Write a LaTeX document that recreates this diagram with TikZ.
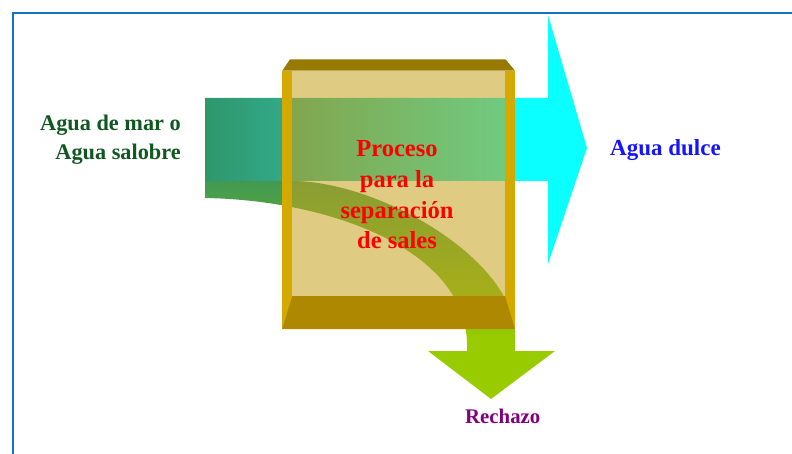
\documentclass[tikz,border=0pt]{standalone}
\usepackage{fontspec}
\setmainfont{Liberation Serif}
\definecolor{tealin}{RGB}{46,151,108}
\definecolor{tealmid}{RGB}{51,168,135}
\definecolor{freshcyan}{RGB}{10,255,255}
\definecolor{brineA}{RGB}{66,153,82}
\definecolor{brineB}{RGB}{153,204,0}
\definecolor{tankfill}{RGB}{197,162,28}
\definecolor{tankgold}{RGB}{212,169,0}
\definecolor{lidtop}{RGB}{151,122,0}
\definecolor{lidbot}{RGB}{173,136,0}
\definecolor{frameblue}{RGB}{22,112,200}
\definecolor{seagreen}{RGB}{16,88,32}
\definecolor{rejectpurple}{RGB}{128,0,128}
\definecolor{freshblue}{RGB}{20,20,255}
% feed water turning from sea green to fresh cyan
\pgfdeclarehorizontalshading{feedflow}{100bp}{color(0bp)=(tealin); color(25bp)=(tealin);
  color(37.5bp)=(tealmid); color(75bp)=(freshcyan); color(100bp)=(freshcyan)}
\tikzset{
  label/.style={inner sep=0pt, font=\bfseries},
  frameline/.style={draw=frameblue, line width=2.2pt}
}
\begin{document}
\begin{tikzpicture}[x=1pt, y=-1pt]
\useasboundingbox (0,0) rectangle (792,454);
% page frame
\draw[frameline] (12.8,454) -- (12.8,12.8) -- (792,12.8);

% feed water band and fresh water arrow
\begin{scope}
  \clip (205,98) -- (548,98) -- (548,15) -- (587,148) -- (548,264)
        -- (548,181) -- (205,181) -- cycle;
  \shade[shading=feedflow] (205,0) rectangle (512,300);
  \fill[freshcyan] (511.5,0) rectangle (600,300);
\end{scope}

% brine branch bending down into the reject arrow
\begin{scope}
  \clip (205,181) -- (292,181) .. controls (380,181) and (515,260) .. (515,335)
        -- (515,351) -- (555,351) -- (491,399) -- (428,351) -- (467,351)
        -- (467,345) .. controls (467,250) and (330,200) .. (205,198) -- cycle;
  \shade[top color=brineA, bottom color=brineB] (200,181) rectangle (560,340);
  \fill[brineB] (200,339.5) rectangle (560,400);
\end{scope}

% separation tank
\fill[tankfill, fill opacity=0.55] (292,70.7) rectangle (505,296);
\fill[tankgold] (282.3,70.7) rectangle (292.3,329);
\fill[tankgold] (505,70.7) rectangle (515,329);
\fill[lidtop] (290,59.3) -- (505.5,59.3) -- (515,70.7) -- (282.3,70.7) -- cycle;
\fill[lidbot] (292.3,296) -- (505,296) -- (515,329) -- (282.3,329) -- cycle;

% labels
\node[label, text=seagreen, align=right, anchor=east,
      font=\bfseries\fontsize{22.3}{28.5}\selectfont] (source) at (181,139.8)
  {Agua de mar o\\Agua salobre};
\node[label, text=red, align=center,
      font=\bfseries\fontsize{24.5}{30.7}\selectfont] (process) at (397,194.9)
  {Proceso\\para la\\separación\\de sales};
\node[label, text=freshblue, anchor=base west,
      font=\bfseries\fontsize{23}{28}\selectfont] (fresh) at (610,155.7) {Agua dulce};
\node[label, text=rejectpurple, anchor=base west,
      font=\bfseries\fontsize{20.8}{26}\selectfont] (reject) at (465,423) {Rechazo};
\end{tikzpicture}
\end{document}
